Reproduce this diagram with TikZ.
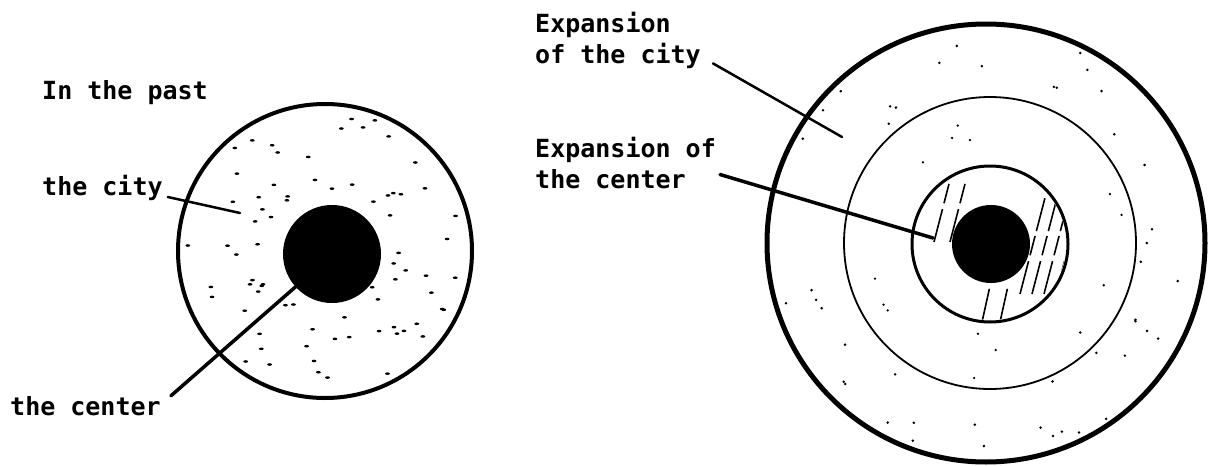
\documentclass[tikz,border=0pt]{standalone}
\usepackage{fontspec}
\setmonofont{DejaVu Sans Mono}
\usepackage{tikz}
\usetikzlibrary{calc}

\begin{document}
\begin{tikzpicture}[
    x=1pt, y=-1pt,
    ring/.style={draw, circle, inner sep=0pt, line width=#1},
    ring/.default=2pt,
    core/.style={circle, fill=black, inner sep=0pt},
    lbl/.style={font=\ttfamily\bfseries\fontsize{25}{31}\selectfont, inner sep=0pt, anchor=base west, align=left},
    leader/.style={line width=#1, line cap=round},
    leader/.default=2.5pt,
    speck/.style={fill=black},
    hatch/.style={line width=1.6pt, dash pattern=on 34pt off 6pt on 20pt off 5pt}
]
\useasboundingbox (0,0) rectangle (1208,466);

% In the past
\node (city) [ring=4pt, minimum size=294pt] at (325,251) {};
\pgfmathsetseed{7}
\foreach \i in {1,...,75}{
  \pgfmathsetmacro{\ang}{rnd*360}
  \pgfmathsetmacro{\rad}{58+rnd*82}
  \fill[speck] ($(city)+(\ang:\rad)$) ellipse (2.4 and 1.3);
}
\node (core) [core, minimum size=98pt] at (332,254) {};

\node (pastlbl) [lbl] at (42,99) {In the past};
\node (citylbl) [lbl] at (42,195) {the city};
\node (centerlbl) [lbl] at (10,415) {the center};

\coordinate (cityend) at (240,213);
\draw[leader=2.5pt] ([xshift=5pt,yshift=-2pt]citylbl.base east) -- (cityend);
\draw[leader=3.5pt] ([xshift=10pt]centerlbl.north east) -- (core.222);

% Expansion
\node (region) [ring=5pt, minimum size=438pt] at (986,243) {};
\node (belt) [ring=1.8pt, minimum size=292pt] at (990,243) {};
\node (newcenter) [ring=3pt, minimum size=156pt] at (990,244) {};

\foreach \i in {1,...,45}{
  \pgfmathsetmacro{\ang}{rnd*360}
  \pgfmathsetmacro{\rad}{153+rnd*60}
  \fill[speck] ($(region)+(\ang:\rad)$) circle (1.4);
}
\foreach \i in {1,...,14}{
  \pgfmathsetmacro{\ang}{rnd*360}
  \pgfmathsetmacro{\rad}{86+rnd*54}
  \fill[speck] ($(belt)+(\ang:\rad)$) circle (1.3);
}

\begin{scope}
  \clip (newcenter) circle (76);
  \foreach \dx in {30,42,54,66}
    \draw[hatch] ($(newcenter)+(\dx,50)$) -- ++(26,-100);
  \foreach \dx in {-56,-40}
    \draw[hatch] ($(newcenter)+(\dx,-2)$) -- ++(16,-62);
  \foreach \dx in {-8,10}
    \draw[hatch] ($(newcenter)+(\dx,78)$) -- ++(8,-36);
\end{scope}
\node (oldcore) [core, minimum size=78pt] at (991,244) {};

\node (growlbl) [lbl] at (535,63) {Expansion\\of the city};
\node (spreadlbl) [lbl] at (535,188) {Expansion of\\the center};

\coordinate (growend) at (842,137);
\coordinate (spreadend) at (933,238);
\draw[leader=2.5pt] ([xshift=12pt,yshift=5pt]growlbl.south east) -- (growend);
\draw[leader=3.5pt] ([xshift=4pt,yshift=-12pt]spreadlbl.east) -- (spreadend);

\end{tikzpicture}
\end{document}
